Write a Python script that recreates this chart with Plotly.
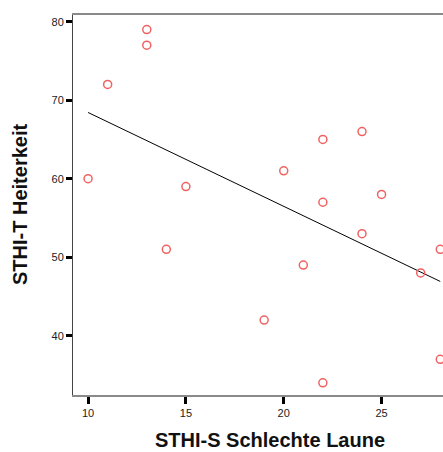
import numpy as np
import plotly.graph_objects as go

# Data
schlechte_laune = [10, 11, 13, 13, 15, 14, 22, 24, 20, 25, 22, 24, 28, 21, 27, 19, 28, 22]
heiterkeit      = [60, 72, 79, 77, 59, 51, 65, 66, 61, 58, 57, 53, 51, 49, 48, 42, 37, 34]
x_ticks = [10, 15, 20, 25]
y_ticks = [40, 50, 60, 70, 80]

x_arr = np.array(schlechte_laune, dtype=float)
y_arr = np.array(heiterkeit, dtype=float)
slope, intercept = np.polyfit(x_arr, y_arr, 1)
fit_x = [x_arr.min(), x_arr.max()]
fit_y = [intercept + slope * v for v in fit_x]

fig = go.Figure()
fig.add_trace(go.Scatter(
    x=fit_x, y=fit_y, mode="lines",
    line=dict(color="black", width=1), hoverinfo="skip", showlegend=False))
fig.add_trace(go.Scatter(
    x=schlechte_laune, y=heiterkeit, mode="markers",
    marker=dict(symbol="circle-open", size=8, color="#f06262", line=dict(width=1.5, color="#f06262")),
    showlegend=False))

L, T, B = 73, 15, 57
W, H = 443, 452
pw, ph = W - L, H - T - B

fig.update_layout(
    width=W, height=H,
    margin=dict(l=L, r=0, t=T, b=B, pad=0),
    paper_bgcolor="white", plot_bgcolor="white",
    font=dict(family="Liberation Sans, Arial, sans-serif", color="#222"),
    xaxis=dict(range=[9.23, 28.14], tickvals=x_ticks, ticktext=[str(v) for v in x_ticks],
               ticks="outside", ticklen=7, tickwidth=3, tickcolor="black",
               showgrid=False, zeroline=False, showline=True, linecolor="#8a8a8a",
               linewidth=1.5, mirror=True, tickfont=dict(size=11, color="#222")),
    yaxis=dict(range=[32.45, 80.85], tickvals=y_ticks, ticktext=[str(v) for v in y_ticks],
               ticks="outside", ticklen=6, tickwidth=3, tickcolor="black",
               showgrid=False, zeroline=False, showline=True, linecolor="#444",
               linewidth=1, tickfont=dict(size=11, color="#222")),
    annotations=[
        dict(text="<b>STHI-T Heiterkeit</b>", xref="paper", yref="paper",
             x=(20 - L) / pw, y=0.5, xanchor="center", yanchor="middle",
             textangle=-90, showarrow=False, font=dict(size=20, color="#111")),
        dict(text="<b>STHI-S Schlechte Laune</b>", xref="paper", yref="paper",
             x=(270 - L) / pw, y=(395 - 452) / ph, xanchor="center", yanchor="bottom",
             borderpad=0, showarrow=False, font=dict(size=20, color="#111")),
    ],
)

fig.write_html("out.html")
